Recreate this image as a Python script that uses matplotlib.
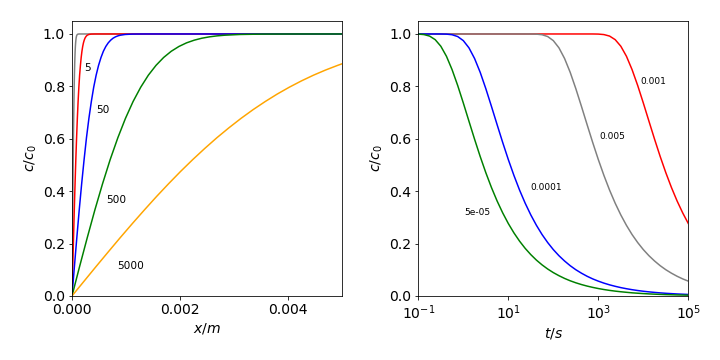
import matplotlib
matplotlib.use("Agg")
import matplotlib.pyplot as plt

# left panel: concentration profiles c/c0 vs depth x, one curve per time (s)
c_profile = [0, 0.1125, 0.2227, 0.3286, 0.4284, 0.5205, 0.6039, 0.6778,
             0.7421, 0.7969, 0.8427, 0.8802, 0.9103, 0.9340, 0.9523, 0.9661,
             0.9763, 0.9838, 0.9891, 0.9928, 0.9953, 0.9981, 0.9996, 1.0, 1.0]

x_05 = [0, 0.0000045, 0.0000089, 0.0000134, 0.0000179, 0.0000224, 0.0000268,
        0.0000313, 0.0000358, 0.0000402, 0.0000447, 0.0000492, 0.0000537,
        0.0000581, 0.0000626, 0.0000671, 0.0000716, 0.000076, 0.0000805,
        0.000085, 0.0000894, 0.0000984, 0.000112, 0.000134, 0.005]
x_5 = [0, 0.0000141, 0.0000283, 0.0000424, 0.0000566, 0.0000707, 0.0000849,
       0.000099, 0.000113, 0.000127, 0.000141, 0.000156, 0.00017, 0.000184,
       0.000198, 0.000212, 0.000226, 0.00024, 0.000255, 0.000269, 0.000283,
       0.000311, 0.000354, 0.000424, 0.005]
x_50 = [0, 0.0000447, 0.0000894, 0.000134, 0.000179, 0.000224, 0.000268,
        0.000313, 0.000358, 0.000402, 0.000447, 0.000492, 0.000537, 0.000581,
        0.000626, 0.000671, 0.000716, 0.00076, 0.000805, 0.00085, 0.000894,
        0.000984, 0.001118, 0.001342, 0.005]
x_500 = [0, 0.000141, 0.000283, 0.000424, 0.000566, 0.000707, 0.000849,
         0.00099, 0.001131, 0.001273, 0.001414, 0.001556, 0.001697, 0.001838,
         0.00198, 0.002121, 0.002263, 0.002404, 0.002546, 0.002687, 0.002828,
         0.003111, 0.003536, 0.004243, 0.005]

x_5000 = [0, 0.000224, 0.000447, 0.000671, 0.000894, 0.001118, 0.001342,
          0.001565, 0.001789, 0.002012, 0.002236, 0.00246, 0.002683, 0.002907,
          0.00313, 0.003354, 0.003578, 0.003801, 0.004025, 0.004249, 0.004472,
          0.004696, 0.00492, 0.005]
c_5000 = [0, 0.0564, 0.1125, 0.1680, 0.2227, 0.2763, 0.3286, 0.3794, 0.4284,
          0.4755, 0.5205, 0.5633, 0.6039, 0.6420, 0.6778, 0.7112, 0.7421,
          0.7707, 0.7969, 0.8209, 0.8427, 0.8624, 0.8802, 0.8861]

# right panel: c/c0 vs time at fixed depths (m)
t = [0.1, 0.1334, 0.1778, 0.2371, 0.3162, 0.4217, 0.5623, 0.7499, 1, 1.334,
     1.778, 2.371, 3.162, 4.217, 5.623, 7.499, 10, 13.34, 17.78, 23.71, 31.62,
     42.17, 56.23, 74.99, 100, 133.4, 177.8, 237.1, 316.2, 421.7, 562.3, 749.9,
     1000, 1334, 1778, 2371, 3162, 4217, 5623, 7499, 10000, 13340, 17780,
     23710, 31620, 42170, 56230, 74990, 100000]
c_5em5 = [0.9996, 0.9977, 0.9920, 0.9783, 0.9532, 0.9149, 0.8639, 0.8033,
          0.7365, 0.6670, 0.5983, 0.5322, 0.4705, 0.4139, 0.3627, 0.3170,
          0.2763, 0.2405, 0.2091, 0.1815, 0.1576, 0.1366, 0.1185, 0.1027,
          0.0890, 0.0772, 0.0668, 0.0578, 0.0501, 0.0434, 0.0376, 0.0326,
          0.0282, 0.0244, 0.0211, 0.0183, 0.0159, 0.0138, 0.0118, 0.0103,
          0.0089, 0.0077, 0.0067, 0.0058, 0.0050, 0.0044, 0.0037, 0.0033,
          0.0028]
c_1em4 = [1.0, 1.0, 1.0, 1.0, 0.9999, 0.9994, 0.9971, 0.9902, 0.9746, 0.9471,
          0.9064, 0.8536, 0.7913, 0.7237, 0.6543, 0.5858, 0.5205, 0.4597,
          0.4040, 0.3539, 0.3091, 0.2694, 0.2343, 0.2037, 0.1768, 0.1535,
          0.1333, 0.1154, 0.1000, 0.0868, 0.0751, 0.0650, 0.0564, 0.0488,
          0.0423, 0.0367, 0.0317, 0.0275, 0.0238, 0.0206, 0.0178, 0.0155,
          0.0134, 0.0116, 0.0100, 0.0087, 0.0075, 0.0065, 0.0056]
c_1em3 = [1.0, 1.0, 1.0, 1.0, 1.0, 1.0, 1.0, 1.0, 1.0, 1.0, 1.0, 1.0, 1.0,
          1.0, 1.0, 1.0, 1.0, 1.0, 1.0, 1.0, 0.9999, 0.9994, 0.9971, 0.9902,
          0.9746, 0.9471, 0.9064, 0.8536, 0.7913, 0.7237, 0.6543, 0.5858,
          0.5205, 0.4597, 0.4040, 0.3539, 0.3091, 0.2694, 0.2343, 0.2037,
          0.1768, 0.1535, 0.1333, 0.1154, 0.1000, 0.0868, 0.0751, 0.0650,
          0.0564]
c_5em3 = [1.0, 1.0, 1.0, 1.0, 1.0, 1.0, 1.0, 1.0, 1.0, 1.0, 1.0, 1.0, 1.0,
          1.0, 1.0, 1.0, 1.0, 1.0, 1.0, 1.0, 1.0, 1.0, 1.0, 1.0, 1.0, 1.0,
          1.0, 1.0, 1.0, 1.0, 1.0, 1.0, 0.9996, 0.9977, 0.9920, 0.9783,
          0.9532, 0.9149, 0.8639, 0.8033, 0.7365, 0.6670, 0.5983, 0.5322,
          0.4705, 0.4139, 0.3627, 0.3170, 0.2763]

left_labels = ["5", "50", "500", "5000"]
left_label_pos = [(0.00022, 0.87), (0.00044, 0.71), (0.00063, 0.366), (0.00084, 0.114)]
right_labels = ["0.001", "0.005", "0.0001", "5e-05"]
right_label_pos = [(8600, 0.817), (1070, 0.61), (31, 0.414), (1.07, 0.317)]

fig = plt.figure(figsize=(10, 5), dpi=72)
ax1 = fig.add_axes([0.1, 0.178, 0.375, 0.764])
ax2 = fig.add_axes([0.581, 0.178, 0.375, 0.764])

ax1.plot(x_05, c_profile, color="grey")
ax1.plot(x_5, c_profile, color="red")
ax1.plot(x_50, c_profile, color="blue")
ax1.plot(x_500, c_profile, color="green")
ax1.plot(x_5000, c_5000, color="orange")
for lbl, (px, py) in zip(left_labels, left_label_pos):
    ax1.text(px, py, lbl, ha="left", va="center", fontsize=10.5)
ax1.set_xlim(0, 0.005)
ax1.set_ylim(0, 1.05)
ax1.set_xticks([0, 0.002, 0.004])
ax1.set_xlabel(r"$x/m$", fontsize=14)
ax1.set_ylabel(r"$c/c_0$", fontsize=14)
ax1.tick_params(labelsize=14)

ax2.plot(t, c_5em3, color="red")
ax2.plot(t, c_1em3, color="grey")
ax2.plot(t, c_1em4, color="blue")
ax2.plot(t, c_5em5, color="green")
for lbl, (px, py) in zip(right_labels, right_label_pos):
    ax2.text(px, py, lbl, ha="left", va="center", fontsize=9)
ax2.set_xscale("log")
ax2.set_xlim(0.1, 1e5)
ax2.set_ylim(0, 1.05)
ax2.set_xticks([0.1, 10, 1000, 100000])
ax2.minorticks_off()
ax2.set_xlabel(r"$t/s$", fontsize=14)
ax2.set_ylabel(r"$c/c_0$", fontsize=14)
ax2.tick_params(labelsize=14)

fig.savefig("out.png", dpi=72)
